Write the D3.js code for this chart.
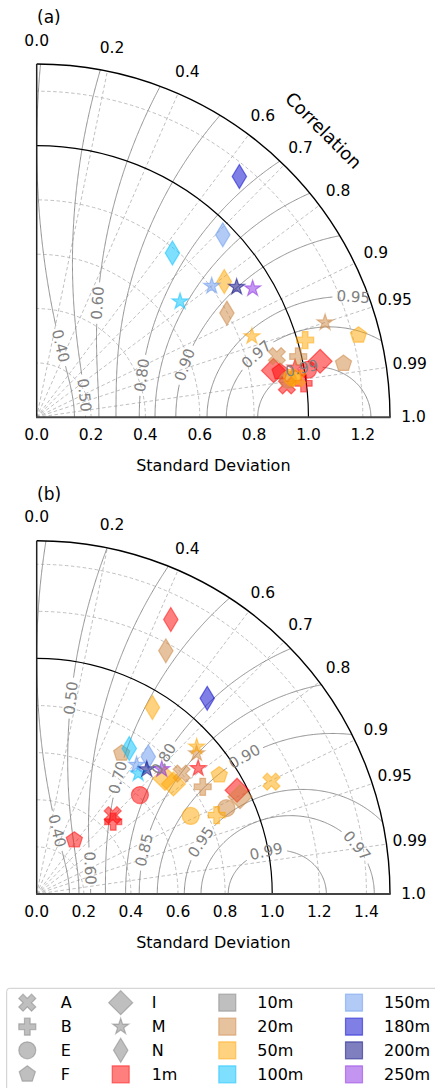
<!DOCTYPE html>
<html>
<head>
<meta charset="utf-8">
<script src="https://cdn.jsdelivr.net/npm/d3@7"></script>
<style>
  body { margin: 0; background: #fff; }
  svg { display: block; font-family: "DejaVu Sans", sans-serif; }
</style>
</head>
<body>
<div id="chart"></div>
<script>
// correlation ticks on the outer arc
const corrTicks = [0, 0.2, 0.4, 0.6, 0.7, 0.8, 0.9, 0.95, 0.99, 1.0];
const corrTickLabels = ['0.0', '0.2', '0.4', '0.6', '0.7', '0.8', '0.9', '0.95', '0.99', '1.0'];

// std ticks of each panel
const stdTicksA = [0, 0.2, 0.4, 0.6, 0.8, 1.0, 1.2];
const stdTicksB = [0, 0.2, 0.4, 0.6, 0.8, 1.0, 1.2, 1.4];

// skill score contour levels
const skillLevels = [0.4, 0.5, 0.6, 0.7, 0.8, 0.85, 0.9, 0.95, 0.97, 0.99];

// legend categories
const shapeNames = ['A', 'B', 'E', 'F', 'I', 'M', 'N'];
const depthNames = ['1m', '10m', '20m', '50m', '100m', '150m', '180m', '200m', '250m'];
const depthColors = ['#ff0000', '#808080', '#cd853f', '#ffa500', '#00bfff', '#6495ed', '#0000cd', '#000080', '#8a2be2'];

// panel (a) points
const aShape = ['I', 'I', 'A', 'B', 'E', 'M', 'F',
  'N', 'M', 'F', 'A', 'B', 'E',
  'N', 'M', 'F', 'B', 'E', 'A',
  'N', 'M', 'N', 'M', 'N', 'M', 'M'];
const aDepth = ['1m', '1m', '1m', '1m', '1m', '1m', '1m',
  '20m', '20m', '20m', '20m', '20m', '20m',
  '50m', '50m', '50m', '50m', '50m', '50m',
  '100m', '100m', '150m', '150m', '180m', '200m', '250m'];
const aStd = [1.063, 0.888, 0.928, 0.990, 1.014, 0.968, 0.911,
  0.798, 1.117, 1.146, 0.912, 0.988, 0.935,
  0.852, 0.846, 1.222, 1.028, 0.951, 0.969,
  0.784, 0.678, 0.959, 0.805, 1.158, 0.878, 0.925];
const aCorr = [0.981, 0.981, 0.992, 0.992, 0.985, 0.982, 0.983,
  0.877, 0.950, 0.985, 0.969, 0.974, 0.989,
  0.810, 0.936, 0.969, 0.961, 0.988, 0.989,
  0.637, 0.778, 0.714, 0.800, 0.644, 0.838, 0.859];

// panel (b) points
const bShape = ['N', 'M', 'I', 'E', 'A', 'B', 'F',
  'N', 'F', 'A', 'M', 'B', 'I', 'E',
  'N', 'I', 'I', 'M', 'F', 'B', 'E', 'A',
  'N', 'M', 'N', 'M', 'N', 'M', 'M'];
const bDepth = ['1m', '1m', '1m', '1m', '1m', '1m', '1m',
  '20m', '20m', '20m', '20m', '20m', '20m', '20m',
  '50m', '50m', '50m', '50m', '50m', '50m', '50m', '50m',
  '100m', '100m', '150m', '150m', '180m', '200m', '250m'];
const bStd = [1.297, 0.869, 0.958, 0.607, 0.465, 0.447, 0.279,
  1.169, 0.698, 0.800, 0.904, 0.839, 0.957, 0.884,
  0.932, 0.733, 0.745, 0.923, 0.925, 0.834, 0.733, 1.105,
  0.732, 0.669, 0.751, 0.693, 1.102, 0.706, 0.750];
const bCorr = [0.439, 0.789, 0.888, 0.722, 0.694, 0.727, 0.573,
  0.469, 0.517, 0.769, 0.751, 0.840, 0.902, 0.911,
  0.527, 0.743, 0.779, 0.736, 0.838, 0.916, 0.892, 0.902,
  0.537, 0.644, 0.631, 0.612, 0.657, 0.662, 0.708];

// where the contour labels sit (data coords, snapped onto the contour)
const labelSpotsA = [[0.40, 0.104, 0.266], [0.50, 0.178, 0.082], [0.60, 0.227, 0.42], [0.80, 0.380, 0.156],
  [0.90, 0.528, 0.199], [0.97, 0.81, 0.23], [0.99, 0.97, 0.20], [0.95, 1.166, 0.475]];
const labelSpotsB = [[0.40, 0.106, 0.272], [0.50, 0.151, 0.831], [0.60, 0.219, 0.109], [0.70, 0.332, 0.498],
  [0.80, 0.523, 0.583], [0.85, 0.453, 0.187], [0.90, 0.856, 0.625], [0.95, 0.685, 0.229],
  [0.97, 1.337, 0.187], [0.99, 0.969, 0.2]];

const W = 435, H = 1088;
const arcPx = 353.3;
const ms = 17;

const svg = d3.select('#chart').append('svg')
  .attr('width', W).attr('height', H);
svg.append('rect').attr('width', W).attr('height', H).attr('fill', '#fff');

// skill score used for the grey contours
function skill(x, y) {
  const s = Math.max(Math.hypot(x, y), 1e-9);
  const R = x / s;
  const l = Math.log(s);
  return Math.exp(-0.235 * l * l) * (0.4 + 0.6 * R);
}

function markerPath(shape, size) {
  const h = size / 2;
  let pts;
  if (shape === 'E') {
    return `M${h},0A${h},${h} 0 1,1 ${-h},0A${h},${h} 0 1,1 ${h},0Z`;
  }
  if (shape === 'A') {
    pts = [[-1, -2], [0, -1], [1, -2], [2, -1], [1, 0], [2, 1], [1, 2], [0, 1], [-1, 2], [-2, 1], [-1, 0], [-2, -1]]
      .map(p => [p[0] * size / 4, p[1] * size / 4]);
  } else if (shape === 'B') {
    pts = [[-1, -3], [1, -3], [1, -1], [3, -1], [3, 1], [1, 1], [1, 3], [-1, 3], [-1, 1], [-3, 1], [-3, -1], [-1, -1]]
      .map(p => [p[0] * size / 6, p[1] * size / 6]);
  } else if (shape === 'F') {
    pts = d3.range(5).map(k => {
      const a = -Math.PI / 2 + k * 2 * Math.PI / 5;
      return [h * Math.cos(a), h * Math.sin(a)];
    });
  } else if (shape === 'I') {
    const d = 0.7071 * size;
    pts = [[0, -d], [d, 0], [0, d], [-d, 0]];
  } else if (shape === 'N') {
    const d = 0.7071 * size;
    pts = [[0, -d], [0.6 * d, 0], [0, d], [-0.6 * d, 0]];
  } else if (shape === 'M') {
    pts = d3.range(10).map(k => {
      const a = -Math.PI / 2 + k * Math.PI / 5;
      const r = k % 2 ? h * 0.381966 : h;
      return [r * Math.cos(a), r * Math.sin(a)];
    });
  } else {
    pts = [[-h, -h], [h, -h], [h, h], [-h, h]];
  }
  return 'M' + pts.map(p => p[0].toFixed(2) + ',' + p[1].toFixed(2)).join('L') + 'Z';
}

function drawPanel(cfg) {
  const ox = 36.7, oy = cfg.oy;
  const r = d3.scaleLinear().domain([0, cfg.rmax]).range([0, arcPx]);
  const g = svg.append('g');
  const px = (x) => ox + r(x);
  const py = (y) => oy - r(y);

  // clip to the quarter disk
  const clipId = 'clip' + cfg.tag;
  g.append('clipPath').attr('id', clipId)
    .append('path')
    .attr('d', `M${ox},${oy}L${ox + arcPx},${oy}A${arcPx},${arcPx} 0 0,0 ${ox},${oy - arcPx}Z`);

  // dashed grid: std arcs and correlation rays
  const grid = g.append('g')
    .attr('fill', 'none').attr('stroke', '#b0b0b0')
    .attr('stroke-width', 0.8).attr('stroke-dasharray', '3.5,2.5');
  cfg.stdTicks.filter(t => t > 0 && t !== 1).forEach(t => {
    grid.append('path')
      .attr('d', `M${px(t)},${oy}A${r(t)},${r(t)} 0 0,0 ${ox},${oy - r(t)}`);
  });
  corrTicks.filter(c => c > 0 && c < 1).forEach(c => {
    const th = Math.acos(c);
    grid.append('line')
      .attr('x1', ox).attr('y1', oy)
      .attr('x2', ox + arcPx * Math.cos(th)).attr('y2', oy - arcPx * Math.sin(th));
  });

  // skill contours
  const n = 360, x0 = -0.05, step = (cfg.rmax + 0.2) / n;
  const values = new Float64Array(n * n);
  for (let j = 0; j < n; j++) {
    for (let i = 0; i < n; i++) {
      values[j * n + i] = skill(x0 + i * step, x0 + j * step);
    }
  }
  const contours = d3.contours().size([n, n]).thresholds(skillLevels)(values);
  const proj = d3.geoTransform({
    point: function(gx, gy) {
      this.stream.point(px(x0 + (gx - 0.5) * step), py(x0 + (gy - 0.5) * step));
    }
  });
  const path = d3.geoPath(proj);

  // contour labels, snapped to the contour
  const labelData = cfg.labels.map(([lev, lx, ly]) => {
    let x = lx, y = ly, gx = 0, gy = 0;
    for (let k = 0; k < 30; k++) {
      const e = 1e-5;
      const v = skill(x, y) - lev;
      gx = (skill(x + e, y) - skill(x - e, y)) / (2 * e);
      gy = (skill(x, y + e) - skill(x, y - e)) / (2 * e);
      const gg = gx * gx + gy * gy;
      x -= v * gx / gg;
      y -= v * gy / gg;
    }
    let ang = Math.atan2(gx, gy) * 180 / Math.PI;
    if (ang > 90) ang -= 180;
    if (ang < -90) ang += 180;
    return {lev, sx: px(x), sy: py(y), ang};
  });

  const maskId = 'mask' + cfg.tag;
  const mask = g.append('mask').attr('id', maskId).attr('maskUnits', 'userSpaceOnUse')
    .attr('x', 0).attr('y', 0).attr('width', W).attr('height', H);
  mask.append('rect').attr('x', 0).attr('y', 0).attr('width', W).attr('height', H).attr('fill', '#fff');

  const lines = g.append('g').attr('clip-path', `url(#${clipId})`)
    .append('g').attr('mask', `url(#${maskId})`);
  lines.selectAll('path')
    .data(contours)
    .join('path')
    .attr('d', path)
    .attr('fill', 'none')
    .attr('stroke', '#858585')
    .attr('stroke-width', 0.9);

  // reference std arc and outer boundary
  g.append('path')
    .attr('d', `M${px(1)},${oy}A${r(1)},${r(1)} 0 0,0 ${ox},${oy - r(1)}`)
    .attr('fill', 'none').attr('stroke', '#000').attr('stroke-width', 1.2);
  g.append('path')
    .attr('d', `M${ox + arcPx},${oy}A${arcPx},${arcPx} 0 0,0 ${ox},${oy - arcPx}`)
    .attr('fill', 'none').attr('stroke', '#000').attr('stroke-width', 1.4);
  g.append('line')
    .attr('x1', ox).attr('y1', oy).attr('x2', ox).attr('y2', oy - arcPx)
    .attr('stroke', '#222').attr('stroke-width', 1.5);
  g.append('line')
    .attr('x1', ox - 0.7).attr('y1', oy).attr('x2', ox + arcPx + 0.7).attr('y2', oy)
    .attr('stroke', '#444').attr('stroke-width', 2);

  // points
  const pts = cfg.shape.map((s, i) => ({
    shape: s,
    color: depthColors[depthNames.indexOf(cfg.depth[i])],
    std: cfg.std[i],
    corr: cfg.corr[i]
  }));
  g.append('g').selectAll('path')
    .data(pts)
    .join('path')
    .attr('transform', d => {
      const th = Math.acos(d.corr);
      return `translate(${ox + r(d.std) * Math.cos(th)},${oy - r(d.std) * Math.sin(th)})`;
    })
    .attr('d', d => markerPath(d.shape, ms))
    .attr('fill', d => d.color).attr('fill-opacity', 0.5)
    .attr('stroke', d => d.color).attr('stroke-opacity', 0.5)
    .attr('stroke-width', 1.2);

  // contour label text + gaps in the lines
  const labs = g.append('g')
    .attr('font-size', 15).attr('fill', '#808080')
    .attr('text-anchor', 'middle').attr('dominant-baseline', 'central');
  labelData.forEach(d => {
    const t = labs.append('text')
      .attr('transform', `translate(${d.sx},${d.sy}) rotate(${d.ang})`)
      .text(d.lev.toFixed(2));
    const w = t.node().getComputedTextLength() + 8;
    mask.append('rect')
      .attr('x', -w / 2).attr('y', -6).attr('width', w).attr('height', 12)
      .attr('transform', `translate(${d.sx},${d.sy}) rotate(${d.ang})`)
      .attr('fill', '#000');
  });

  // correlation tick labels
  corrTicks.forEach((c, i) => {
    const th = Math.acos(c);
    const rr = arcPx + 23.5;
    g.append('text')
      .attr('x', ox + rr * Math.cos(th)).attr('y', oy - rr * Math.sin(th))
      .attr('text-anchor', 'middle').attr('dominant-baseline', 'central')
      .attr('font-size', 15.5)
      .text(corrTickLabels[i]);
  });

  // std axis ticks
  cfg.stdTicks.forEach(t => {
    g.append('text')
      .attr('x', px(t)).attr('y', oy + 18)
      .attr('text-anchor', 'middle').attr('dominant-baseline', 'central')
      .attr('font-size', 15.5)
      .text(t.toFixed(1));
  });
  g.append('text')
    .attr('x', ox + arcPx / 2).attr('y', oy + 48)
    .attr('text-anchor', 'middle').attr('dominant-baseline', 'central')
    .attr('font-size', 16)
    .text('Standard Deviation');

  if (cfg.corrTitle) {
    const rr = arcPx + 52.5;
    g.append('text')
      .attr('transform', `translate(${ox + rr * Math.SQRT1_2},${oy - rr * Math.SQRT1_2}) rotate(45)`)
      .attr('text-anchor', 'middle').attr('dominant-baseline', 'central')
      .attr('font-size', 18)
      .text('Correlation');
  }

  g.append('text')
    .attr('x', 37).attr('y', oy - 400)
    .attr('dominant-baseline', 'central')
    .attr('font-size', 17)
    .text(cfg.title);
}

drawPanel({tag: 'a', title: '(a)', oy: 417.3, rmax: 1.3, stdTicks: stdTicksA,
  shape: aShape, depth: aDepth, std: aStd, corr: aCorr, labels: labelSpotsA, corrTitle: true});
drawPanel({tag: 'b', title: '(b)', oy: 894, rmax: 1.5, stdTicks: stdTicksB,
  shape: bShape, depth: bDepth, std: bStd, corr: bCorr, labels: labelSpotsB, corrTitle: false});

// legend
const legend = svg.append('g');
legend.append('rect')
  .attr('x', 6.7).attr('y', 988.3).attr('width', 440).attr('height', 120)
  .attr('rx', 3).attr('fill', '#fff').attr('stroke', '#cccccc').attr('stroke-width', 1);

const legendItems = shapeNames.map(s => ({label: s, shape: s, color: '#808080'}))
  .concat(depthNames.map((d, i) => ({label: d, shape: 's', color: depthColors[i]})));
const colMarkX = [27.3, 120.7, 227.3, 354];
const colTextX = [60.7, 151.7, 257.3, 384];
const rowY = [1002.7, 1026.7, 1050.3, 1074.3];

legendItems.forEach((d, i) => {
  const col = Math.floor(i / 4), row = i % 4;
  legend.append('path')
    .attr('transform', `translate(${colMarkX[col]},${rowY[row]})`)
    .attr('d', markerPath(d.shape, ms))
    .attr('fill', d.color).attr('fill-opacity', 0.5)
    .attr('stroke', d.color).attr('stroke-opacity', 0.5)
    .attr('stroke-width', 1.2);
  legend.append('text')
    .attr('x', colTextX[col]).attr('y', rowY[row])
    .attr('dominant-baseline', 'central')
    .attr('font-size', 16)
    .text(d.label);
});
</script>
</body>
</html>
